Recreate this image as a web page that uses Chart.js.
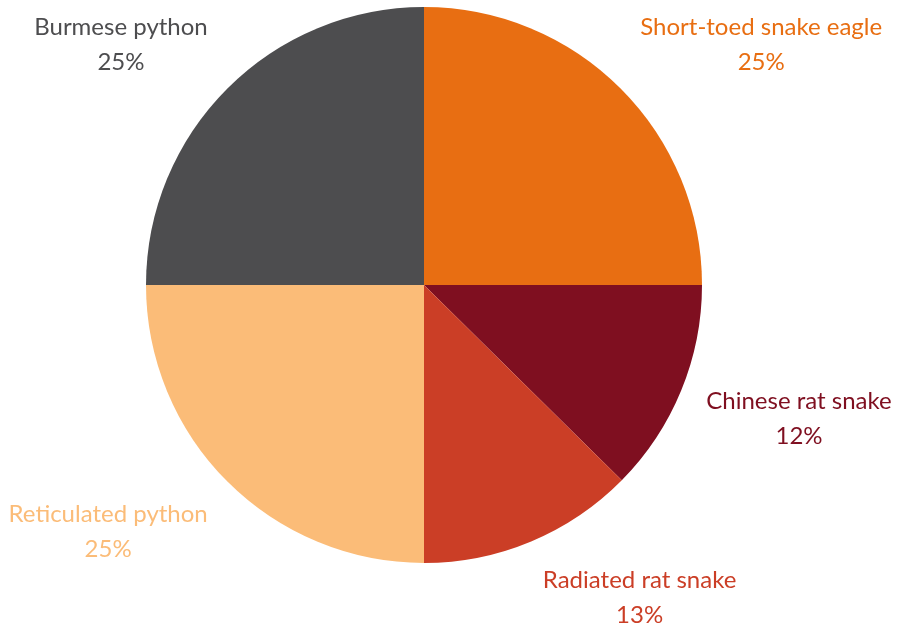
<!DOCTYPE html>
<html>
<head>
<meta charset="utf-8">
<script src="https://cdn.jsdelivr.net/npm/chart.js@4.4.1/dist/chart.umd.min.js"></script>
<style>
  html, body { margin: 0; padding: 0; background: #fff; }
  #wrap { width: 897px; height: 624px; }
</style>
</head>
<body>
<div id="wrap"><canvas id="pieChart"></canvas></div>
<script>
/* ================= DATA ================= */
const labels = ["Short-toed snake eagle", "Chinese rat snake", "Radiated rat snake", "Reticulated python", "Burmese python"];
const values = [25, 12.4, 12.6, 25, 25];
const pctLabels = ["25%", "12%", "13%", "25%", "25%"];
const colors = ["#E86E12", "#7F0F20", "#CB3E26", "#FBBC78", "#4D4D4F"];

/* =========================
   OUTSIDE LABELS (name + %)
========================= */
const outsideLabels = {
    id: "outsideLabels",
    afterDatasetsDraw(chart) {
        const ctx = chart.ctx;
        const meta = chart.getDatasetMeta(0);
        const lineH = 35;

        ctx.save();
        ctx.font = "24px Lato, 'Noto Sans', sans-serif";
        ctx.textBaseline = "middle";
        ctx.textAlign = "center";

        meta.data.forEach((arc, i) => {
            const mid = (arc.startAngle + arc.endAngle) / 2;
            const cx = Math.cos(mid), cy = Math.sin(mid);
            const r = arc.outerRadius + 25;
            const ax = arc.x + cx * r;
            const ay = arc.y + cy * r;

            const lines = [labels[i], pctLabels[i]];
            const w = Math.max(...lines.map(t => ctx.measureText(t).width));
            const h = lineH * lines.length;

            const left = cx >= 0 ? ax + 2 : ax - w - 2;
            // top side: block sits just above; side labels are pulled up a bit
            let top;
            if (cy < 0) top = ay - h + 9;
            else top = ay - 2 - h * Math.max(0, Math.abs(cx) - 0.72);

            ctx.fillStyle = colors[i];
            lines.forEach((t, k) => {
                ctx.fillText(t, left + w / 2, top + lineH * k + lineH / 2);
            });
        });
        ctx.restore();
    }
};

new Chart(document.getElementById("pieChart"), {
    type: "pie",
    data: {
        labels,
        datasets: [{
            data: values,
            backgroundColor: colors,
            borderWidth: 0
        }]
    },
    options: {
        responsive: true,
        maintainAspectRatio: false,
        animation: false,
        layout: { padding: { top: 7, bottom: 61, left: 146, right: 195 } },
        plugins: {
            legend: { display: false },
            tooltip: { enabled: false }
        }
    },
    plugins: [outsideLabels]
});
</script>
</body>
</html>
